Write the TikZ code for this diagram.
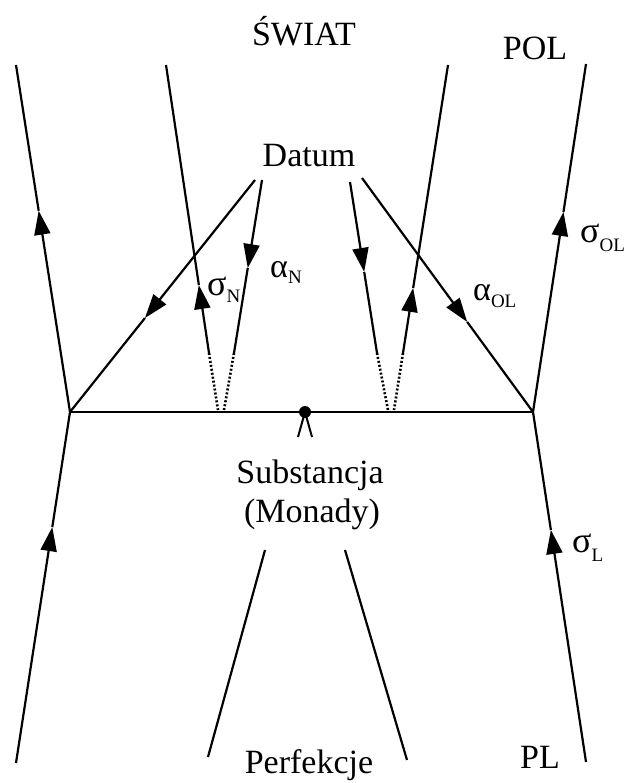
\documentclass[tikz,border=0pt]{standalone}
\usepackage{fontspec}
\setmainfont{Liberation Serif}
\usetikzlibrary{arrows.meta,calc}
\newcommand\mylbl[3]{#1\raisebox{#3}{\fontsize{19}{19}\selectfont #2}}
\begin{document}
\begin{tikzpicture}[x=1pt,y=-1pt,
  ln/.style={line width=2.2pt,line cap=butt},
  dots/.style={line width=2.6pt,dash pattern=on 2pt off 2pt},
  arr/.style={ln,-{Triangle[length=24pt,width=16pt]}},
  big/.style={font=\fontsize{34}{34}\selectfont,inner sep=0pt},
  greek/.style={font=\fontsize{36}{36}\selectfont,inner sep=0pt,anchor=base west}]
\useasboundingbox (0,0) rectangle (624,783);
% main points
\coordinate (LT) at (16,65);
\coordinate (LJ) at (70,412);
\coordinate (LB) at (16,763);
\coordinate (RT) at (586,64);
\coordinate (RJ) at (533,412);
\coordinate (RB) at (586,762);
% inner left
\coordinate (NT) at (166,65);
\coordinate (NS) at (209,353);
\coordinate (NB) at (218,410);
\coordinate (AT) at (262,180);
\coordinate (AS) at (234,353);
\coordinate (AB) at (224,410);
\coordinate (DL) at (255,180);
% inner right
\coordinate (DR) at (362,178);
\coordinate (BT) at (350,182);
\coordinate (BS) at (377,353);
\coordinate (BB) at (388,410);
\coordinate (CT) at (448,65);
\coordinate (CS) at (403,353);
\coordinate (CB) at (394,410);
% perfekcje lines
\coordinate (P1) at (265,550);
\coordinate (P2) at (208,757);
\coordinate (P3) at (345,550);
\coordinate (P4) at (407,760);
% arrow tips
\coordinate (tLT) at ($(LJ)!0.58!(LT)$);
\coordinate (tLB) at ($(LB)!0.672!(LJ)$);
\coordinate (tRT) at ($(RJ)!0.575!(RT)$);
\coordinate (tRB) at ($(RB)!0.663!(RJ)$);
\coordinate (tN) at ($(NS)!0.236!(NT)$);
\coordinate (tA) at ($(AT)!0.509!(AS)$);
\coordinate (tDL) at ($(DL)!0.595!(LJ)$);
\coordinate (tDR) at ($(DR)!0.615!(RJ)$);
\coordinate (tB) at ($(BT)!0.526!(BS)$);
\coordinate (tC) at ($(CS)!0.226!(CT)$);
% outer lines
\draw[arr] (LJ) -- (tLT); \draw[ln] (tLT) -- (LT);
\draw[arr] (LB) -- (tLB); \draw[ln] (tLB) -- (LJ);
\draw[arr] (RJ) -- (tRT); \draw[ln] (tRT) -- (RT);
\draw[arr] (RB) -- (tRB); \draw[ln] (tRB) -- (RJ);
% horizontal
\draw[ln] (LJ) -- (RJ);
% diagonals from Datum
\draw[arr] (DL) -- (tDL); \draw[ln] (tDL) -- (LJ);
\draw[arr] (DR) -- (tDR); \draw[ln] (tDR) -- (RJ);
% inner left
\draw[arr] (NS) -- (tN); \draw[ln] (tN) -- (NT);
\draw[dots] (NS) -- (NB);
\draw[arr] (AT) -- (tA); \draw[ln] (tA) -- (AS);
\draw[dots] (AS) -- (AB);
% inner right
\draw[arr] (BT) -- (tB); \draw[ln] (tB) -- (BS);
\draw[dots] (BS) -- (BB);
\draw[arr] (CS) -- (tC); \draw[ln] (tC) -- (CT);
\draw[dots] (CS) -- (CB);
% perfekcje lines
\draw[ln] (P1) -- (P2);
\draw[ln] (P3) -- (P4);
% central pin
\node[circle,fill=black,inner sep=0pt,minimum size=12pt] (pin) at (305,412) {};
\coordinate (legL) at (298,437);
\coordinate (legR) at (312,437);
\draw[line width=2pt] (legL) -- (pin.center) -- (legR);
% texts
\node[big,anchor=base] (swiat) at (304,46) {ŚWIAT};
\node[big,anchor=base] (pol) at (535,60) {POL};
\node[big,anchor=base] (datum) at (309,167) {Datum};
\node[big,anchor=base] (subst) at (310,483) {Substancja};
\node[big,anchor=base] (monady) at (312,522) {(Monady)};
\node[big,anchor=base] (perf) at (309,773) {Perfekcje};
\node[big,anchor=base] (pl) at (540,768) {PL};
\node[greek] (sN) at (207,295) {\mylbl{σ}{N}{-7pt}};
\node[greek,font=\fontsize{34}{34}\selectfont] (aN) at (270,277) {\mylbl{α}{N}{-6pt}};
\node[greek,font=\fontsize{34}{34}\selectfont] (aOL) at (473,300) {\mylbl{α}{OL}{-7pt}};
\node[greek] (sOL) at (580,243) {\mylbl{σ}{OL}{-9pt}};
\node[greek] (sL) at (572,552) {\mylbl{σ}{L}{-9pt}};
\end{tikzpicture}
\end{document}
